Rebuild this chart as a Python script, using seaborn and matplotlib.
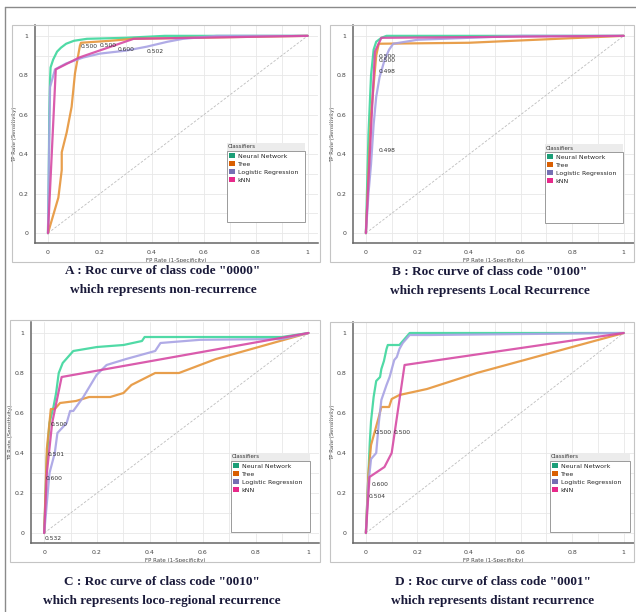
import matplotlib
matplotlib.use("Agg")
import matplotlib.pyplot as plt
from matplotlib.patches import Rectangle, Patch
from matplotlib.lines import Line2D
import pandas as pd
import seaborn as sns

classifiers = ["Neural Network", "Tree", "Logistic Regression", "kNN"]
legend_colors = ["#1b9e77", "#d95f02", "#7570b3", "#e7298a"]
line_colors = ["#3dd69c", "#e6953a", "#a8a2e4", "#d64aa4"]

# A : class "0000" (non-recurrence)
a_nn_fpr = [0, 0.003, 0.005, 0.008, 0.01, 0.02, 0.035, 0.05, 0.07, 0.1, 0.15, 0.3, 0.45, 1]
a_nn_tpr = [0, 0.3, 0.6, 0.78, 0.84, 0.88, 0.92, 0.94, 0.96, 0.975, 0.985, 0.99, 1.0, 1]
a_tree_fpr = [0, 0.04, 0.053, 0.053, 0.072, 0.091, 0.104, 0.123, 0.127, 0.24, 0.33, 1]
a_tree_tpr = [0, 0.18, 0.32, 0.41, 0.51, 0.64, 0.81, 0.95, 0.965, 0.975, 0.985, 1]
a_lr_fpr = [0, 0.004, 0.008, 0.027, 0.07, 0.135, 0.2, 0.3, 0.38, 0.46, 0.52, 0.65, 1]
a_lr_tpr = [0, 0.4, 0.74, 0.83, 0.86, 0.89, 0.91, 0.925, 0.945, 0.97, 0.985, 1.0, 1]
a_knn_fpr = [0, 0.03, 0.12, 0.33, 1]
a_knn_tpr = [0, 0.83, 0.89, 0.985, 1]
a_thr_text = ["0.500", "0.500", "0.600", "0.502"]
a_thr_x = [0.125, 0.198, 0.27, 0.38]
a_thr_y = [0.945, 0.95, 0.93, 0.92]

# B : class "0100" (local recurrence)
b_nn_fpr = [0, 0.01, 0.02, 0.03, 0.04, 0.06, 0.08, 1]
b_nn_tpr = [0, 0.5, 0.8, 0.93, 0.97, 0.99, 1.0, 1]
b_tree_fpr = [0, 0.02, 0.04, 0.05, 0.4, 1]
b_tree_tpr = [0, 0.6, 0.9, 0.96, 0.965, 1]
b_lr_fpr = [0, 0.01, 0.02, 0.03, 0.04, 0.053, 0.073, 0.09, 0.106, 0.2, 0.4, 0.6, 1]
b_lr_tpr = [0, 0.2, 0.35, 0.55, 0.69, 0.79, 0.88, 0.93, 0.96, 0.98, 0.99, 1.0, 1]
b_knn_fpr = [0, 0.035, 0.06, 1]
b_knn_tpr = [0, 0.92, 0.99, 1]
b_thr_text = ["0.500", "0.500", "0.498", "0.498"]
b_thr_x = [0.05, 0.05, 0.05, 0.05]
b_thr_y = [0.895, 0.875, 0.82, 0.42]

# C : class "0010" (loco-regional recurrence)
c_nn_fpr = [0, 0.01, 0.02, 0.035, 0.045, 0.055, 0.07, 0.09, 0.11, 0.2, 0.3, 0.37, 0.38, 0.9, 1]
c_nn_tpr = [0, 0.38, 0.55, 0.63, 0.7, 0.8, 0.85, 0.88, 0.91, 0.93, 0.94, 0.96, 0.98, 0.98, 1]
c_tree_fpr = [0, 0.01, 0.025, 0.04, 0.06, 0.12, 0.17, 0.25, 0.3, 0.33, 0.42, 0.51, 0.65, 1]
c_tree_tpr = [0, 0.42, 0.62, 0.62, 0.65, 0.66, 0.68, 0.68, 0.7, 0.74, 0.8, 0.8, 0.87, 1]
c_lr_fpr = [0, 0.01, 0.02, 0.04, 0.05, 0.085, 0.098, 0.11, 0.148, 0.198, 0.236, 0.31, 0.42, 0.44, 0.59, 0.9, 1]
c_lr_tpr = [0, 0.15, 0.3, 0.4, 0.5, 0.55, 0.61, 0.61, 0.68, 0.79, 0.84, 0.87, 0.91, 0.95, 0.966, 0.97, 1]
c_knn_fpr = [0, 0.01, 0.03, 0.066, 1]
c_knn_tpr = [0, 0.3, 0.55, 0.78, 1]
c_thr_text = ["0.500", "0.501", "0.600", "0.532"]
c_thr_x = [0.025, 0.012, 0.006, 0.003]
c_thr_y = [0.54, 0.39, 0.27, -0.03]

# D : class "0001" (distant recurrence)
d_nn_fpr = [0, 0.01, 0.015, 0.02, 0.03, 0.04, 0.055, 0.06, 0.07, 0.08, 0.085, 0.13, 0.15, 0.17, 1]
d_nn_tpr = [0, 0.3, 0.45, 0.56, 0.68, 0.76, 0.78, 0.82, 0.86, 0.92, 0.94, 0.94, 0.97, 1.0, 1]
d_tree_fpr = [0, 0.01, 0.02, 0.05, 0.06, 0.09, 0.1, 0.13, 0.237, 0.43, 1]
d_tree_tpr = [0, 0.3, 0.44, 0.58, 0.63, 0.63, 0.67, 0.69, 0.72, 0.8, 1]
d_lr_fpr = [0, 0.01, 0.02, 0.04, 0.05, 0.06, 0.08, 0.092, 0.11, 0.12, 0.13, 0.143, 0.17, 0.25, 1]
d_lr_tpr = [0, 0.25, 0.37, 0.4, 0.55, 0.665, 0.74, 0.78, 0.865, 0.88, 0.92, 0.95, 0.99, 0.99, 1]
d_knn_fpr = [0, 0.014, 0.072, 0.1, 0.15, 1]
d_knn_tpr = [0, 0.28, 0.33, 0.4, 0.84, 1]
d_thr_text = ["0.500", "0.500", "0.600", "0.504"]
d_thr_x = [0.035, 0.108, 0.024, 0.012]
d_thr_y = [0.5, 0.505, 0.245, 0.18]

captions = [
    ('A : Roc curve of class code "0000"', "which represents non-recurrence"),
    ('B : Roc curve of class code "0100"', "which represents Local Recurrence"),
    ('C : Roc curve of class code "0010"', "which represents loco-regional recurrence"),
    ('D : Roc curve of class code "0001"', "which represents distant recurrence"),
]

W, H = 636, 612
sns.set_style("white")
plt.rcParams["font.family"] = ["DejaVu Sans"]


def fx(x):
    return x / W


def fy(y):
    return 1 - y / H


def make_df(curves):
    rows = []
    for name, (xs, ys) in zip(classifiers, curves):
        for x, y in zip(xs, ys):
            rows.append({"fpr": x, "tpr": y, "classifier": name})
    return pd.DataFrame(rows)


panels = [
    dict(curves=[(a_nn_fpr, a_nn_tpr), (a_tree_fpr, a_tree_tpr), (a_lr_fpr, a_lr_tpr), (a_knn_fpr, a_knn_tpr)],
         thr=(a_thr_text, a_thr_x, a_thr_y),
         ax=(35, 25, 318, 243), frame=(12, 25, 320, 262), leg=(227, 143, 305, 222), cap=(163, 271)),
    dict(curves=[(b_nn_fpr, b_nn_tpr), (b_tree_fpr, b_tree_tpr), (b_lr_fpr, b_lr_tpr), (b_knn_fpr, b_knn_tpr)],
         thr=(b_thr_text, b_thr_x, b_thr_y),
         ax=(353, 25, 634, 243), frame=(330, 25, 634, 262), leg=(545, 144, 623, 223), cap=(490, 272)),
    dict(curves=[(c_nn_fpr, c_nn_tpr), (c_tree_fpr, c_tree_tpr), (c_lr_fpr, c_lr_tpr), (c_knn_fpr, c_knn_tpr)],
         thr=(c_thr_text, c_thr_x, c_thr_y),
         ax=(31, 322, 319, 543), frame=(10, 320, 320, 562), leg=(231, 453, 310, 532), cap=(162, 582)),
    dict(curves=[(d_nn_fpr, d_nn_tpr), (d_tree_fpr, d_tree_tpr), (d_lr_fpr, d_lr_tpr), (d_knn_fpr, d_knn_tpr)],
         thr=(d_thr_text, d_thr_x, d_thr_y),
         ax=(353, 322, 634, 543), frame=(330, 322, 634, 562), leg=(550, 453, 630, 532), cap=(493, 582)),
]

fig = plt.figure(figsize=(W / 100, H / 100), dpi=100)
fig.patch.set_facecolor("white")

# outer page lines
fig.add_artist(Line2D([fx(5), fx(5)], [fy(7), fy(612)], color="#8a8a8a", lw=1.0))
fig.add_artist(Line2D([fx(5), fx(636)], [fy(7), fy(7)], color="#8a8a8a", lw=1.0))

for p, cap in zip(panels, captions):
    x0, y0, x1, y1 = p["frame"]
    fig.add_artist(Rectangle((fx(x0), fy(y1)), fx(x1 - x0), (y1 - y0) / H,
                             fill=False, edgecolor="#c4c4c4", lw=0.8))

    l, t, r, b = p["ax"]
    ax = fig.add_axes([fx(l), fy(b), fx(r - l), (b - t) / H])
    ax.set_xlim(-0.05, 1.04)
    ax.set_ylim(-0.05, 1.055)
    ax.set_xticks([0, 0.2, 0.4, 0.6, 0.8, 1])
    ax.set_yticks([0, 0.2, 0.4, 0.6, 0.8, 1])
    ax.set_xticklabels(["0", "0.2", "0.4", "0.6", "0.8", "1"])
    ax.set_yticklabels(["0", "0.2", "0.4", "0.6", "0.8", "1"])
    ax.set_xticks([0.1, 0.3, 0.5, 0.7, 0.9], minor=True)
    ax.set_yticks([0.1, 0.3, 0.5, 0.7, 0.9], minor=True)
    ax.grid(True, which="both", color="#e8e8e8", lw=0.6)
    ax.tick_params(which="both", length=0, labelsize=4.5, colors="#444444", pad=5)
    for s in ["top", "right"]:
        ax.spines[s].set_visible(False)
    for s in ["left", "bottom"]:
        ax.spines[s].set_color("#666666")
        ax.spines[s].set_linewidth(1.1)

    ax.plot([0, 1], [0, 1], ls=(0, (3, 2)), color="#bdbdbd", lw=0.6)
    df = make_df(p["curves"])
    sns.lineplot(data=df, x="fpr", y="tpr", hue="classifier", hue_order=classifiers,
                 palette=line_colors, sort=False, estimator=None, lw=1.6, alpha=0.9,
                 legend=False, ax=ax)
    ax.set_xlabel("FP Rate (1-Specificity)", fontsize=4, color="#444444", labelpad=2)
    ax.set_ylabel("TP Rate (Sensitivity)", fontsize=4, color="#444444", labelpad=1)

    texts, tx, ty = p["thr"]
    for s, x, y in zip(texts, tx, ty):
        ax.text(x, y, s, fontsize=4.3, color="#333333", va="center", ha="left")

    # legend box
    lx0, ly0, lx1, ly1 = p["leg"]
    fig.add_artist(Rectangle((fx(lx0), fy(ly0 + 8)), fx(lx1 - lx0), 8 / H,
                             facecolor="#ececec", edgecolor="none", zorder=3))
    fig.add_artist(Rectangle((fx(lx0), fy(ly1)), fx(lx1 - lx0), (ly1 - ly0 - 8) / H,
                             facecolor="white", edgecolor="#9a9a9a", lw=0.7, zorder=3))
    fig.text(fx(lx0 + 1), fy(ly0 + 4), "Classifiers", fontsize=4, color="#333333",
             va="center", ha="left", zorder=4)
    handles = [Patch(facecolor=c, edgecolor="none") for c in legend_colors]
    fig.legend(handles, classifiers, loc="upper left", bbox_to_anchor=(fx(lx0 + 2), fy(ly0 + 10)),
               frameon=False, fontsize=4.5, handlelength=0.9, handleheight=0.9,
               handletextpad=0.5, labelspacing=0.35, borderpad=0, borderaxespad=0)

    cx, cy = p["cap"]
    for i, line in enumerate(cap):
        fig.text(fx(cx), fy(cy + 19 * i), line, family="Liberation Serif", weight="bold",
                 fontsize=9.5, color="#1a1a3a", ha="center", va="center")

fig.savefig("out.png", dpi=100)
